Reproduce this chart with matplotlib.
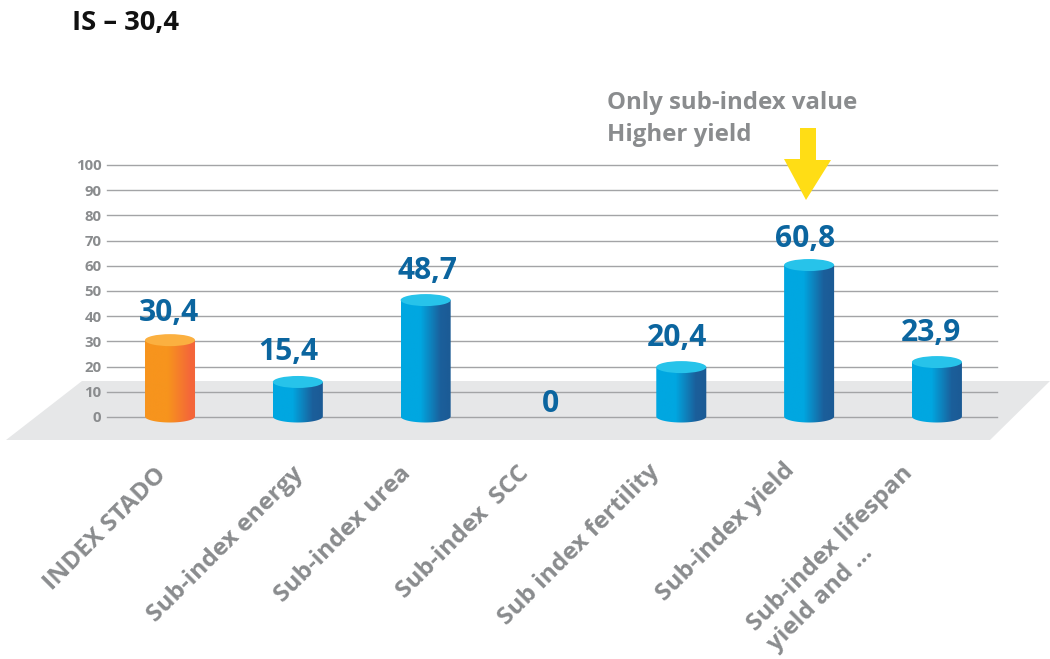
import numpy as np
import matplotlib
matplotlib.use("Agg")
import matplotlib.pyplot as plt
from matplotlib.colors import LinearSegmentedColormap
from matplotlib.patches import Polygon, Ellipse, PathPatch
from matplotlib.path import Path
from matplotlib.transforms import Affine2D

categories = ["INDEX STADO", "Sub-index energy", "Sub-index urea", "Sub-index  SCC",
              "Sub index fertility", "Sub-index yield", "Sub-index lifespan\nyield and ..."]
value_labels = ["30,4", "15,4", "48,7", "0", "20,4", "60,8", "23,9"]
# heights as actually drawn in the source graphic (it differs slightly from its printed labels)
bar_heights = [30.5, 13.9, 46.4, 0, 19.8, 60.3, 21.8]
y_ticks = list(range(0, 101, 10))
title = "IS – 30,4"
note = "Only sub-index value\nHigher yield"

# hand placement of the labels, in pixels
label_dx = [-1.5, -9, 2, -3, -4, -4, -6]
label_dy = [27, 30, 29, 13, 29, 26, 29]
cat_dx = [-16, -7, -27, -36, -34, -26, -36]
cat_dy = [-2, 0, 0, 0, 2, 3, 0]

W, H = 1050, 659
plt.rcParams["font.family"] = ["Open Sans", "DejaVu Sans"]
fig = plt.figure(figsize=(W / 100, H / 100), dpi=100)

def fx(x): return x / W
def fy(y): return 1 - y / H

L, R, T, B = 107, 997, 165, 417
ax = fig.add_axes([fx(L), fy(B), (R - L) / W, (B - T) / H])
ax.patch.set_visible(False)
for s in ax.spines.values():
    s.set_visible(False)
ax.set_xlim(-0.493, 6.47)
ax.set_ylim(0, 100)

# floor
floor = [(6, 440), (82, 381), (1050, 381), (990, 440)]
fig.add_artist(Polygon([(fx(x), fy(y)) for x, y in floor], closed=True,
                       transform=fig.transFigure, fc="#e6e7e8", ec="none", zorder=-5))

ax.set_yticks(y_ticks)
ax.set_yticklabels([str(v) for v in y_ticks], fontsize=10.8, fontweight="bold", color="#8a8c8e")
ax.tick_params(axis="y", length=0, pad=4)
ax.yaxis.grid(True, color="#a3a4a6", lw=1.0, zorder=1)
ax.xaxis.grid(False)
ax.set_axisbelow(True)
for gl in ax.get_ygridlines():
    gl.set_clip_on(False)

ax.set_xticks(range(len(categories)))
ax.set_xticklabels(categories, rotation=45, ha="right", rotation_mode="anchor", va="top",
                   fontsize=17.6, fontweight="bold", color="#8a8c8e", multialignment="left")
ax.tick_params(axis="x", length=0, pad=32)
for lab, dx, dy in zip(ax.get_xticklabels(), cat_dx, cat_dy):
    lab.set_transform(lab.get_transform() + Affine2D().translate(dx, dy))

cmap_o = LinearSegmentedColormap.from_list("o", [(0, "#f7941d"), (0.45, "#f7941d"), (0.9, "#f4663a"), (1, "#f4663a")])
cmap_b = LinearSegmentedColormap.from_list("b", [(0, "#00a7e1"), (0.38, "#00a7e1"), (0.78, "#1b5f9b"), (1, "#1b5a94")])
grad = np.linspace(0, 1, 256).reshape(1, -1)

half_w = 25 / 127.8
ry = 6.0 / 2.52
base = 0.2

for i, v in enumerate(bar_heights):
    if v > 0:
        cmap = cmap_o if i == 0 else cmap_b
        top = "#fbb040" if i == 0 else "#27c3ea"
        t = np.linspace(np.pi, 2 * np.pi, 40)
        xs = i + half_w * np.cos(t)
        ys = base + ry * np.sin(t)
        verts = [(i - half_w, v)] + list(zip(xs, ys)) + [(i + half_w, v), (i - half_w, v)]
        clip = PathPatch(Path(verts), transform=ax.transData, fc="none", ec="none", clip_on=False)
        ax.add_patch(clip)
        im = ax.imshow(grad, cmap=cmap, aspect="auto", zorder=3,
                       extent=[i - half_w, i + half_w, -ry - 1, v])
        im.set_clip_path(clip)
        im.set_clip_box(fig.bbox)
        ax.add_patch(Ellipse((i, v), 2 * half_w, 2 * ry, fc=top, ec="none", zorder=4, clip_on=False))
    ax.annotate(value_labels[i], (i, v), xytext=(label_dx[i], label_dy[i]), textcoords="offset pixels",
                ha="center", va="center", fontsize=21.6, fontweight="bold", color="#0b659f", zorder=6)
ax.set_xlim(-0.493, 6.47)
ax.set_ylim(0, 100)

# highlight arrow
arrow = [(800, 128), (816, 128), (816, 160), (831, 160), (806, 200), (784, 159), (800, 159)]
fig.add_artist(Polygon([(fx(x), fy(y)) for x, y in arrow], closed=True,
                       transform=fig.transFigure, fc="#ffdd15", ec="none", zorder=5))

fig.text(fx(72), fy(23), title, fontsize=19.7, fontweight="bold", color="#111111", va="center", ha="left")
fig.text(fx(607), fy(119), note, fontsize=17.3, fontweight="bold", color="#8a8c8e",
         va="center", ha="left", linespacing=1.4)

fig.savefig("out.png", dpi=100)
